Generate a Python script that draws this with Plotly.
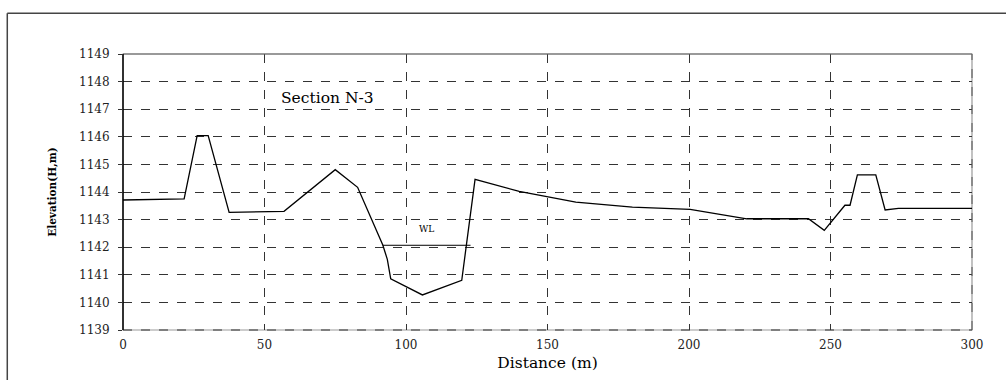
import plotly.graph_objects as go

distance = [0, 21.6, 26.2, 30.1, 37.5, 56.9, 75.0, 82.9, 91.8, 93.4, 94.6, 105.8, 119.7,
            124.4, 140.0, 160.0, 180.0, 200.4, 220.4, 242.2, 247.8, 255.1, 256.9, 259.5,
            266.0, 269.3, 274.0, 300.0]
elevation = [1143.71, 1143.75, 1146.04, 1146.04, 1143.26, 1143.30, 1144.81, 1144.17, 1142.08,
             1141.56, 1140.85, 1140.27, 1140.80, 1144.46, 1144.02, 1143.63, 1143.45, 1143.37,
             1143.03, 1143.03, 1142.61, 1143.52, 1143.52, 1144.62, 1144.62, 1143.35, 1143.41,
             1143.41]
wl_x = [91.8, 122.8]
wl_y = [1142.07, 1142.07]

x_ticks = [0, 50, 100, 150, 200, 250, 300]
y_ticks = [1139, 1140, 1141, 1142, 1143, 1144, 1145, 1146, 1147, 1148, 1149]

SERIF = "DejaVu Serif, serif"

fig = go.Figure()
fig.add_trace(go.Scatter(x=distance, y=elevation, mode="lines",
                         line=dict(color="black", width=1.3), showlegend=False))
fig.add_trace(go.Scatter(x=wl_x, y=wl_y, mode="lines",
                         line=dict(color="black", width=1), showlegend=False))

fig.add_annotation(x=72.4, y=1147.4, text="Section N-3", showarrow=False,
                   font=dict(family=SERIF, size=15.5, color="black"))
fig.add_annotation(x=107.4, y=1142.66, text="WL", showarrow=False,
                   font=dict(family=SERIF, size=9, color="black"))

# outer frame (left & top edges visible)
fig.add_shape(type="line", xref="paper", yref="paper", x0=-0.1363, x1=-0.1363, y0=1.1475, y1=-0.3,
              line=dict(color="#444", width=1.5))
fig.add_shape(type="line", xref="paper", yref="paper", x0=-0.1363, x1=1.1, y0=1.1475, y1=1.1475,
              line=dict(color="#444", width=1.5))
# plot area border
fig.add_shape(type="rect", xref="paper", yref="paper", x0=0, x1=1, y0=0, y1=1,
              line=dict(color="#999", width=1.2), layer="below")
fig.add_shape(type="line", xref="paper", yref="paper", x0=0, x1=1, y0=0, y1=0,
              line=dict(color="#333", width=1.2, dash="dash"))
fig.add_shape(type="line", xref="paper", yref="paper", x0=1, x1=1, y0=0, y1=1,
              line=dict(color="#555", width=1, dash="dash"))
fig.add_shape(type="line", xref="paper", yref="paper", x0=0, x1=1, y0=1, y1=1,
              line=dict(color="#666", width=1))
fig.add_shape(type="line", xref="paper", yref="paper", x0=0, x1=0, y0=0, y1=1,
              line=dict(color="black", width=1.5))

fig.update_xaxes(range=[0, 300], tickvals=x_ticks, ticktext=[str(v) for v in x_ticks],
                 showline=False, zeroline=False, showgrid=True, gridcolor="#333",
                 griddash="dash", gridwidth=1, ticks="", ticklabelstandoff=6,
                 tickfont=dict(family=SERIF, size=12, color="#222"),
                 title=dict(text="Distance (m)", font=dict(family=SERIF, size=15.5, color="black"),
                            standoff=6))
fig.update_yaxes(range=[1139, 1149], tickvals=y_ticks, ticktext=[str(v) for v in y_ticks],
                 showline=False, zeroline=False, showgrid=True, gridcolor="#333",
                 griddash="dash", gridwidth=1, ticks="outside", ticklen=4, tickcolor="#333",
                 ticklabelstandoff=6,
                 tickfont=dict(family=SERIF, size=12, color="#222"),
                 title=dict(text="<b>Elevation(H,m)</b>",
                            font=dict(family=SERIF, size=10.5, color="black"), standoff=20))

fig.update_layout(width=1006, height=380, margin=dict(l=123, r=34, t=54, b=50),
                  plot_bgcolor="white", paper_bgcolor="white")

fig.write_html("out.html")
